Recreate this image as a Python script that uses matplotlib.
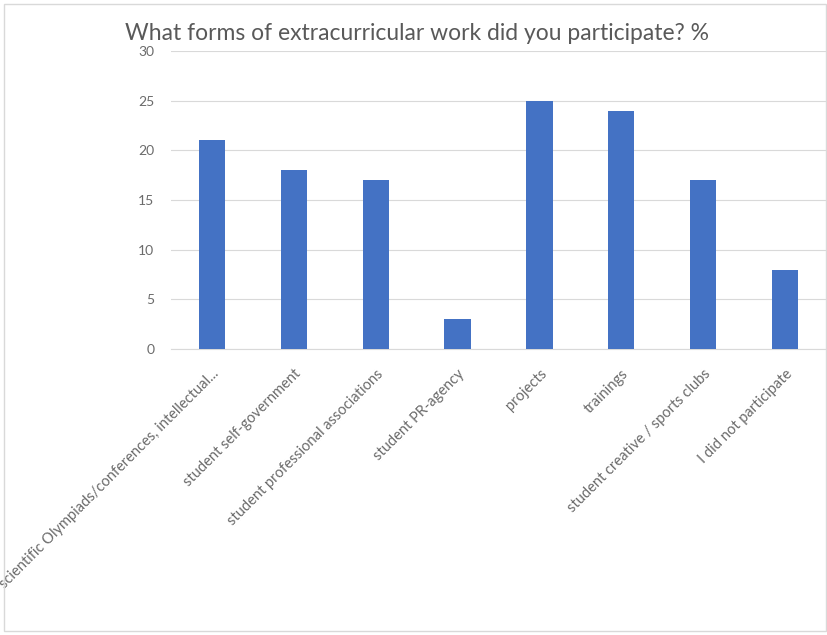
import matplotlib
matplotlib.use('Agg')
import matplotlib.pyplot as plt
import matplotlib.transforms as mtransforms
from matplotlib.patches import Rectangle

categories = ['scientific Olympiads/conferences, intellectual...',
              'student self-government',
              'student professional associations',
              'student PR-agency',
              'projects',
              'trainings',
              'student creative / sports clubs',
              'I did not participate']
percent = [21, 18, 17, 3, 25, 24, 17, 8]
yticks = [0, 5, 10, 15, 20, 25, 30]

plt.rcParams['font.family'] = ['Lato', 'DejaVu Sans']

fig = plt.figure(figsize=(8.28, 6.35), dpi=100)
ax = fig.add_axes([171/828, 1 - 349/635, 655/828, 298/635])

x = range(len(categories))
ax.bar(x, percent, width=0.32, color='#4472C4', zorder=3)

ax.set_xlim(-0.5, len(categories) - 0.5)
ax.set_ylim(0, 30)
ax.set_yticks(yticks)
ax.set_yticklabels([str(v) for v in yticks], color='#6b6b6b', fontsize=10)
ax.grid(axis='y', color='#D9D9D9', linewidth=0.8, zorder=0)
for s in ['top', 'right', 'left']:
    ax.spines[s].set_visible(False)
ax.spines['bottom'].set_color('#D9D9D9')
ax.tick_params(axis='both', length=0)
ax.tick_params(axis='y', pad=12)

ax.set_xticks(list(x))
labels = ax.set_xticklabels(categories, rotation=45, ha='right', va='center',
                            rotation_mode='anchor', color='#6b6b6b', fontsize=10.5)
# move the rotated labels so their ends sit just under the bars
shift = mtransforms.ScaledTranslation(5/100, -18/100, fig.dpi_scale_trans)
for lab in labels:
    lab.set_transform(lab.get_transform() + shift)

fig.text(125/828, 1 - 33/635, 'What forms of extracurricular work did you participate? %',
         fontsize=16.5, color='#595959', va='center', ha='left')

fig.patches.append(Rectangle((4/828, 4/635), 822/828, 627/635, transform=fig.transFigure,
                             fill=False, edgecolor='#D9D9D9', linewidth=1))

fig.savefig('out.png', dpi=100)
